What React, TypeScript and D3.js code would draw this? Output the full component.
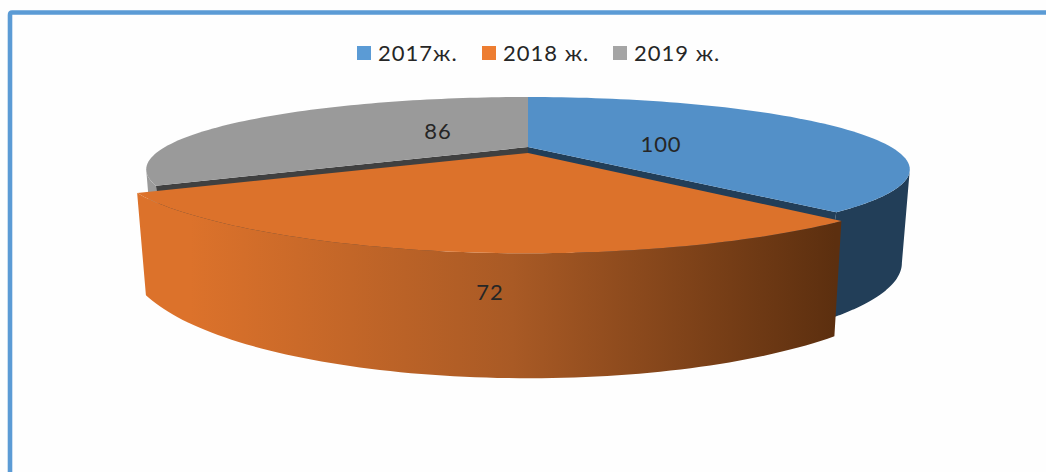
import React from "react";
import * as d3 from "d3";

const categories = ["2017ж.", "2018 ж.", "2019 ж."];
const values = [100, 72, 86];
const faceColors = ["#5390c8", "#dc722b", "#9a9a9a"];
const legendColors = ["#5b9bd5", "#ed7d31", "#a5a5a5"];
const legendSwatchX = [357, 482, 613];
const labelOffsets = [[133, -4], [-38, 144], [-90, -17]];

type Proj = { R: number; p: number; k: number; q: number; y0: number };
const cx = 528;
const mainTop: Proj = { R: 363, p: 0.31, k: 65.5, q: 0.31, y0: 147 };
const mainBottom: Proj = { R: 362, p: 0.25, k: 88.4, q: 0.25, y0: 239.4 };
const explodedTop: Proj = { R: 401, p: 0.223, k: 66.5, q: 0.337, y0: 153 };
const explodedBottom: Proj = { R: 392, p: 0.223, k: 124, q: 0.18, y0: 227 };

const project = (P: Proj, a: number, r = 1): [number, number] => {
  const u = Math.sin(a) * r;
  const v = -Math.cos(a) * r;
  return [cx + (P.R * u) / (1 - P.p * v), P.y0 + (P.k * v) / (1 - P.q * v)];
};

const rim = (P: Proj, a0: number, a1: number) =>
  d3.range(0, 81).map((i) => project(P, a0 + ((a1 - a0) * i) / 80));

const pathOf = d3.line<[number, number]>();
const closed = (pts: [number, number][]) => pathOf(pts) + "Z";

export default function App() {
  const arcs = d3.pie<number>().sort(null)(values);
  const [blue, orange, gray] = arcs;
  const rad = Math.PI / 180;

  const apexTop = project(mainTop, 0, 0);
  const apexBottom = project(mainBottom, 0, 0);
  const font = "Lato, 'Open Sans', sans-serif";

  return (
    <svg
      width={1046}
      height={472}
      style={{ position: "absolute", left: 0, top: 0, background: "#fefefe" }}
    >
      <defs>
        <linearGradient id="orangeWall" gradientUnits="userSpaceOnUse" x1={190} x2={835} y1={0} y2={0}>
          <stop offset="0" stopColor="#dc722b" />
          <stop offset="0.5" stopColor="#a95a25" />
          <stop offset="1" stopColor="#5c2f0f" />
        </linearGradient>
      </defs>
      <path d="M1046 12.5H12Q10 12.5 10 15V472" fill="none" stroke="#5b9bd5" strokeWidth={4.6} />

      {/* outer wall of the gray slice */}
      <path
        d={closed([...rim(mainTop, gray.startAngle, 252 * rad), ...rim(mainBottom, gray.startAngle, 255 * rad).reverse()])}
        fill={faceColors[2]}
      />
      {/* inner wall of the gray slice */}
      <path
        d={closed([apexTop, project(mainTop, gray.startAngle), project(mainBottom, gray.startAngle), apexBottom])}
        fill="#404040"
      />
      {/* outer and inner wall of the blue slice */}
      <path
        d={closed([...rim(mainTop, 108 * rad, blue.endAngle), ...rim(mainBottom, 104.5 * rad, blue.endAngle).reverse()])}
        fill="#223e58"
      />
      <path
        d={closed([apexTop, project(mainTop, blue.endAngle), project(mainBottom, blue.endAngle), apexBottom])}
        fill="#223e58"
      />
      {/* top faces */}
      <path d={closed([apexTop, ...rim(mainTop, blue.startAngle, blue.endAngle)])} fill={faceColors[0]} />
      <path d={closed([apexTop, ...rim(mainTop, gray.startAngle, gray.endAngle)])} fill={faceColors[2]} />
      {/* exploded slice */}
      <path
        d={closed([...rim(explodedTop, orange.startAngle, orange.endAngle), ...rim(explodedBottom, orange.startAngle, orange.endAngle).reverse()])}
        fill="url(#orangeWall)"
      />
      <path
        d={closed([project(explodedTop, 0, 0), ...rim(explodedTop, orange.startAngle, orange.endAngle)])}
        fill={faceColors[1]}
      />

      {values.map((v, i) => (
        <text
          key={i}
          x={cx + labelOffsets[i][0]}
          y={148 + labelOffsets[i][1]}
          dy="0.35em"
          textAnchor="middle"
          fontFamily={font}
          fontSize={22}
          letterSpacing={0.9}
          fill="#262626"
        >
          {v}
        </text>
      ))}

      {categories.map((c, i) => (
        <g key={c}>
          <rect x={legendSwatchX[i]} y={46} width={14} height={14} fill={legendColors[i]} />
          <text
            x={legendSwatchX[i] + 21}
            y={53}
            dy="0.35em"
            fontFamily={font}
            fontSize={22}
            letterSpacing={1}
            fill="#262626"
          >
            {c}
          </text>
        </g>
      ))}
    </svg>
  );
}
